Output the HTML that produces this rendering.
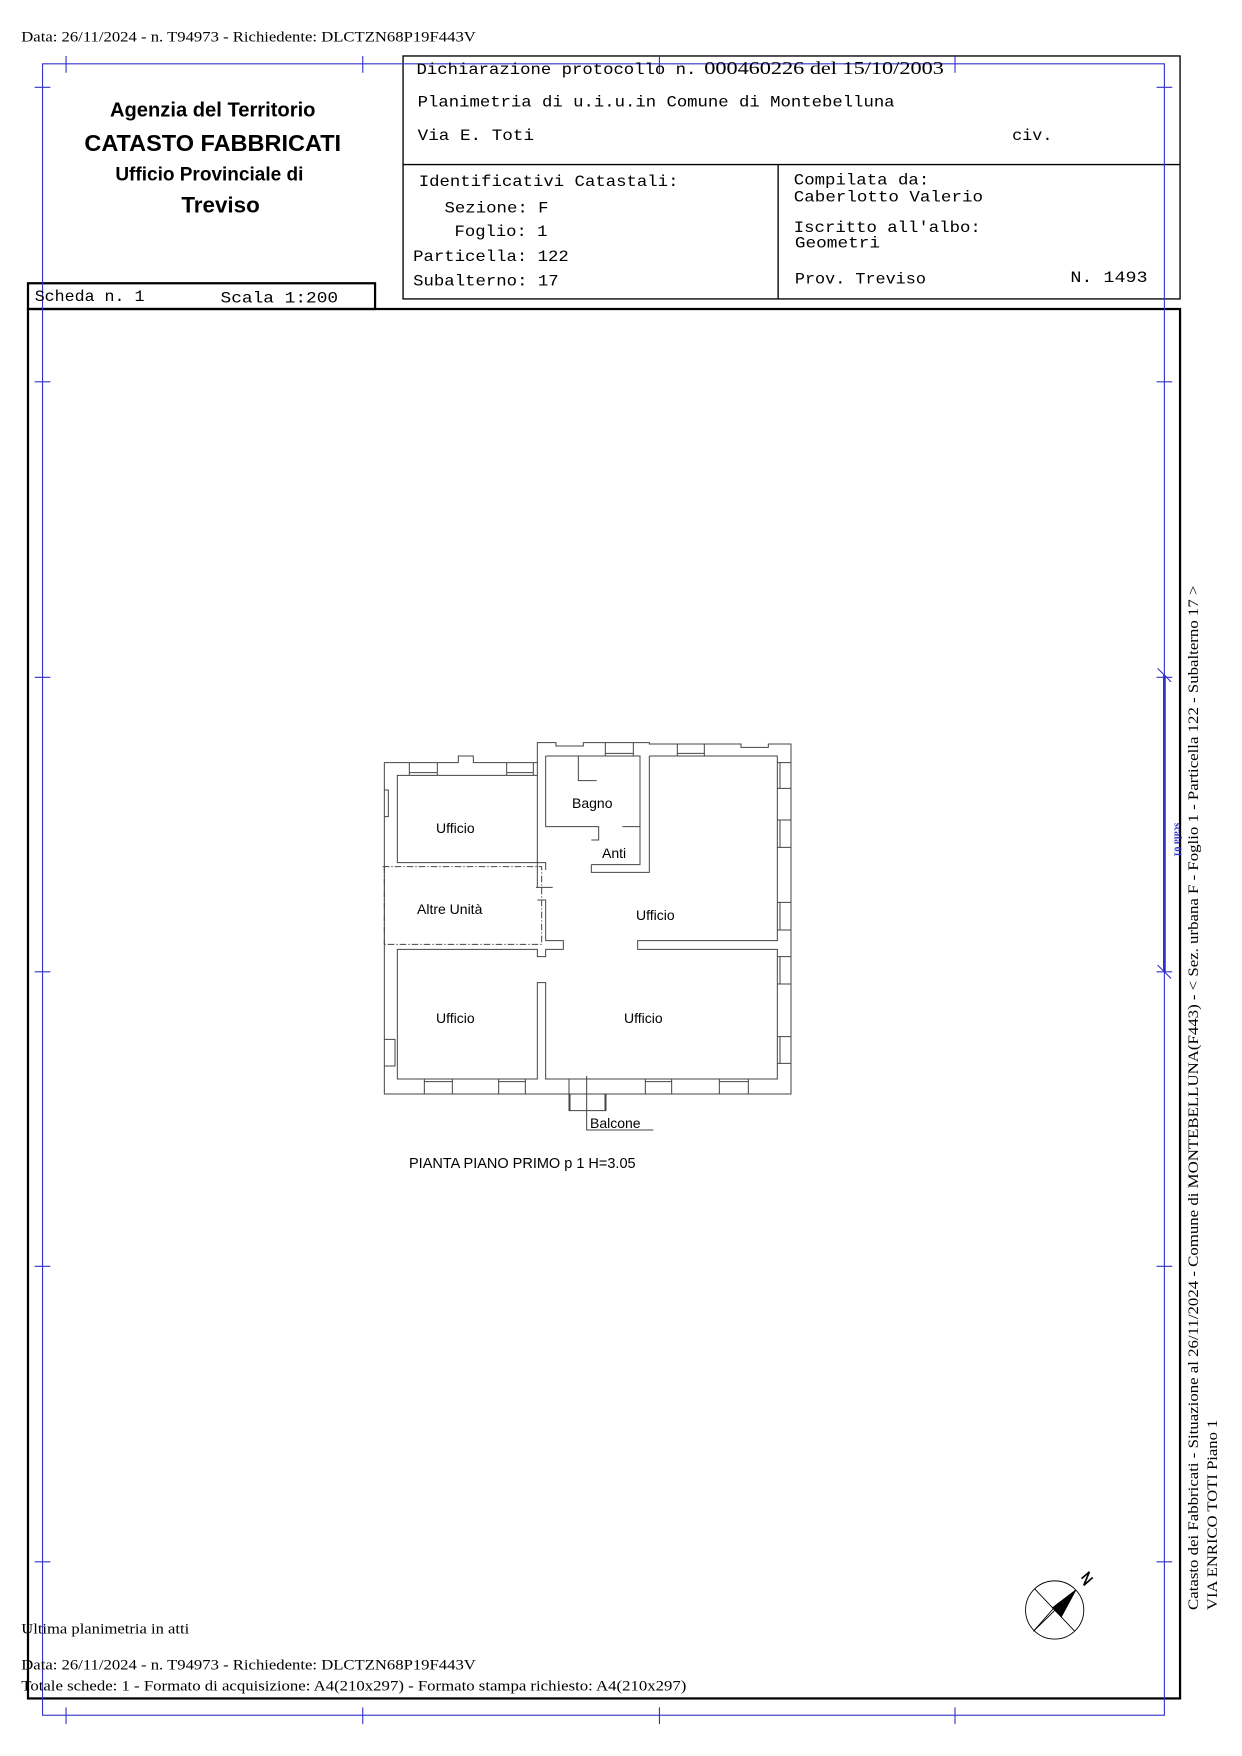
<!DOCTYPE html>
<html><head><meta charset="utf-8"><style>
html,body{margin:0;padding:0;background:#fff;}
svg{display:block;}
.mono{font-family:"Liberation Mono",monospace;}
.serif{font-family:"Liberation Serif",serif;}
.sans{font-family:"Liberation Sans",sans-serif;}
</style></head><body>
<svg width="1242" height="1756" viewBox="0 0 1242 1756" xmlns="http://www.w3.org/2000/svg">
<rect width="1242" height="1756" fill="#fff"/>
<g transform="scale(1.1196)">
  <text x="19" y="37" class="serif" font-size="13" fill="#000" textLength="406" lengthAdjust="spacingAndGlyphs">Data: 26/11/2024 - n. T94973 - Richiedente: DLCTZN68P19F443V</text>
  <rect x="360" y="50" width="694" height="217" fill="none" stroke="#000" stroke-width="1.2"/>
  <line x1="360" y1="147" x2="1054" y2="147" stroke="#000" stroke-width="1.2"/>
  <line x1="695" y1="147" x2="695" y2="267" stroke="#000" stroke-width="1.2"/>
  <rect x="25" y="253" width="310" height="23" fill="none" stroke="#000" stroke-width="2"/>
  <rect x="25" y="276" width="1029" height="1241" fill="none" stroke="#000" stroke-width="2"/>
  <g stroke="#3333cc" stroke-width="1" fill="none">
    <rect x="38" y="57" width="1002" height="1475"/>
    <path d="M59 50V65M324 50V65M589 50V65M853 50V65M59 1525V1540M324 1525V1540M589 1525V1540M853 1525V1540"/>
    <path d="M31 78H45M31 341H45M31 605H45M31 868H45M31 1131H45M31 1395H45M1033 78H1047M1033 341H1047M1033 605H1047M1033 868H1047M1033 1131H1047M1033 1395H1047"/>
    <line x1="1040" y1="603" x2="1040" y2="868" stroke-width="2.5"/>
    <path d="M1034 597L1046 609M1034 862L1046 874"/>
  </g>
  <text transform="translate(1049,735) rotate(90)" class="serif" font-size="9" fill="#3333cc" font-weight="bold">scala 01</text>
  <g class="sans" fill="#000" text-anchor="middle">
    <text x="190" y="104" font-size="18" font-weight="bold">Agenzia del Territorio</text>
    <text x="190" y="135" font-size="21" font-weight="bold">CATASTO FABBRICATI</text>
    <text x="187" y="161" font-size="17" font-weight="bold">Ufficio Provinciale di</text>
    <text x="197" y="190" font-size="20" font-weight="bold">Treviso</text>
  </g>
  <g class="mono" font-size="14" fill="#000" lengthAdjust="spacingAndGlyphs">
    <text x="372" y="66" textLength="250" lengthAdjust="spacingAndGlyphs">Dichiarazione protocollo n.</text>
    <text x="629" y="66" class="serif" font-size="16" textLength="214" lengthAdjust="spacingAndGlyphs">000460226 del 15/10/2003</text>
    <text x="373" y="95" textLength="426" lengthAdjust="spacingAndGlyphs">Planimetria di u.i.u.in Comune di Montebelluna</text>
    <text x="373" y="125" textLength="104" lengthAdjust="spacingAndGlyphs">Via E. Toti</text>
    <text x="904" y="125" textLength="36" lengthAdjust="spacingAndGlyphs">civ.</text>
    <text x="374" y="166" textLength="232" lengthAdjust="spacingAndGlyphs">Identificativi Catastali:</text>
    <text x="397" y="190" textLength="93" lengthAdjust="spacingAndGlyphs">Sezione: F</text>
    <text x="406" y="211" textLength="83" lengthAdjust="spacingAndGlyphs">Foglio: 1</text>
    <text x="369" y="233" textLength="139" lengthAdjust="spacingAndGlyphs">Particella: 122</text>
    <text x="369" y="255" textLength="130" lengthAdjust="spacingAndGlyphs">Subalterno: 17</text>
    <text x="709" y="165" textLength="121" lengthAdjust="spacingAndGlyphs">Compilata da:</text>
    <text x="709" y="180" textLength="169" lengthAdjust="spacingAndGlyphs">Caberlotto Valerio</text>
    <text x="709" y="207" textLength="167" lengthAdjust="spacingAndGlyphs">Iscritto all'albo:</text>
    <text x="710" y="221" textLength="76" lengthAdjust="spacingAndGlyphs">Geometri</text>
    <text x="710" y="253" textLength="117" lengthAdjust="spacingAndGlyphs">Prov. Treviso</text>
    <text x="956" y="252" textLength="69" lengthAdjust="spacingAndGlyphs">N. 1493</text>
    <text x="31" y="269" textLength="98" lengthAdjust="spacingAndGlyphs">Scheda n. 1</text>
    <text x="197" y="270" textLength="105" lengthAdjust="spacingAndGlyphs">Scala 1:200</text>
  </g>
  <g class="serif" font-size="13" fill="#000">
    <text transform="translate(1070,1438) rotate(-90)" textLength="915" lengthAdjust="spacingAndGlyphs">Catasto dei Fabbricati - Situazione al 26/11/2024 - Comune di MONTEBELLUNA(F443) - &lt; Sez. urbana F - Foglio 1 - Particella 122 - Subalterno 17 &gt;</text>
    <text transform="translate(1087,1438) rotate(-90)" textLength="170" lengthAdjust="spacingAndGlyphs">VIA ENRICO TOTI Piano 1</text>
  </g>
  <g class="serif" font-size="13" fill="#000">
    <text x="19" y="1459" textLength="150" lengthAdjust="spacingAndGlyphs">Ultima planimetria in atti</text>
    <text x="19" y="1491" textLength="406" lengthAdjust="spacingAndGlyphs">Data: 26/11/2024 - n. T94973 - Richiedente: DLCTZN68P19F443V</text>
    <text x="19" y="1510" textLength="594" lengthAdjust="spacingAndGlyphs">Totale schede: 1 - Formato di acquisizione: A4(210x297)  - Formato stampa richiesto: A4(210x297)</text>
  </g>
  <g stroke="#000" stroke-width="0.8" fill="none">
    <circle cx="942" cy="1438" r="26"/>
    <line x1="924" y1="1419" x2="960" y2="1457"/>
    <line x1="923" y1="1457" x2="961" y2="1420"/>
    <line x1="923" y1="1457" x2="945" y2="1432"/>
    <polygon points="961,1420 948,1444 940,1436" fill="#000"/>
    <path d="M966 1410L973 1404L968 1416L976 1409" stroke-width="1.5"/>
  </g>
</g>
<g transform="translate(370,730) scale(0.33333)" stroke="#444" stroke-width="3" fill="none">
  <path d="M43 98H265V78H310V98H502V38H558V48H640V38H838V42H1113V52H1195V42H1263V1092H43Z"/>
  <path d="M502 98V398H82V136H502"/>
  <path d="M527 78V290H686V330H664"/>
  <path d="M527 78H810V290H757"/>
  <path d="M625 78V152H680"/>
  <path d="M664 404V427H838V78"/>
  <path d="M664 404H810V290"/>
  <path d="M838 78H1222V632H803V658H1222V1047H527V758H502V1047H82V658H502V680H527V658H580V632H527V510H502"/>
  <path d="M502 472V398H527V420"/>
  <line x1="498" y1="472" x2="548" y2="472"/>
  <path d="M38 410H515V643H38" stroke-dasharray="20,6,4,6"/>
  <line x1="43" y1="410" x2="43" y2="643" stroke-dasharray="20,6,4,6"/>
  <path d="M118 98V136M202 98V136M118 128H202M410 98V136M490 98V136M410 128H490"/>
  <path d="M706 38V78M790 38V78M706 70H790M922 42V78M1003 42V78M922 70H1003"/>
  <path d="M1222 98H1263M1222 175H1263M1230 98V175M1222 270H1263M1222 352H1263M1230 270V352M1222 517H1263M1222 600H1263M1230 517V600M1222 680H1263M1222 762H1263M1230 680V762M1222 920H1263M1222 1000H1263M1230 920V1000"/>
  <path d="M163 1047V1092M247 1047V1092M163 1055H247M386 1047V1092M466 1047V1092M386 1055H466M826 1047V1092M905 1047V1092M826 1055H905M1048 1047V1092M1135 1047V1092M1048 1055H1135"/>
  <path d="M43 928H75V1008H43M43 180H55V260H43"/>
  <path d="M597 1047V1142H708V1092M600 1092V1142M705 1092V1142"/>
  <path d="M650 1038V1200H850"/>
</g>
<g class="sans" font-size="14" fill="#000">
  <text x="436" y="833">Ufficio</text>
  <text x="572" y="808">Bagno</text>
  <text x="602" y="858">Anti</text>
  <text x="417" y="914">Altre Unità</text>
  <text x="636" y="920">Ufficio</text>
  <text x="436" y="1023">Ufficio</text>
  <text x="624" y="1023">Ufficio</text>
  <text x="590" y="1128">Balcone</text>
  <text x="409" y="1168" font-size="14.5">PIANTA PIANO PRIMO p 1 H=3.05</text>
</g>
</svg>
</body></html>
